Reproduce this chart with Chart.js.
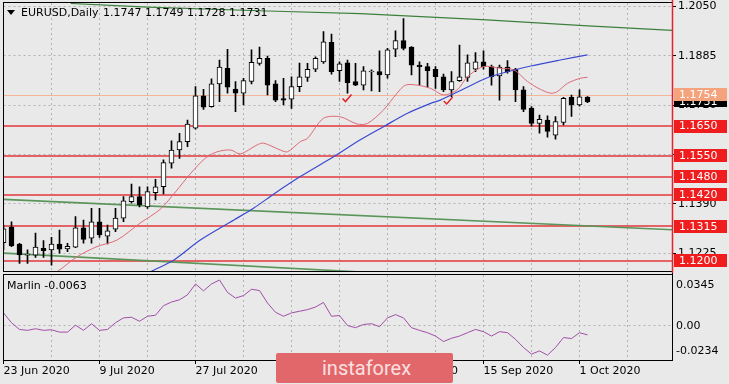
<!DOCTYPE html>
<html><head><meta charset="utf-8">
<script src="https://cdn.jsdelivr.net/npm/chart.js@4.4.1/dist/chart.umd.min.js"></script>
<style>
html,body{margin:0;padding:0;background:#e9e9e9;width:729px;height:384px;overflow:hidden;}
#main{position:absolute;left:0;top:0;}
#sub{position:absolute;left:0;top:273px;}
#logo{position:absolute;left:276px;top:353px;width:177px;height:30px;background:#e2676b;border-radius:2px;color:#fbe0e0;font-family:Roboto,"Open Sans",sans-serif;font-size:20px;line-height:30px;box-sizing:border-box;padding-left:46px;}
</style></head><body>
<canvas id="main" width="729" height="273"></canvas>
<canvas id="sub" width="729" height="111"></canvas>
<div id="logo">instaforex</div>
<script>
// ---- data (daily EURUSD, bar index 0 = 23 Jun 2020) ----
const candleOpen  = [1.1260,1.1312,1.1255,1.1218,1.1218,1.1241,1.1236,1.1255,1.1239,1.1245,1.1310,1.1275,1.1330,1.1282,1.1305,1.1342,1.1397,1.1414,1.1380,1.1427,1.1447,1.1526,1.1570,1.1598,1.1643,1.1751,1.1715,1.1791,1.1843,1.1774,1.1760,1.1799,1.1860,1.1877,1.1791,1.1742,1.1740,1.1782,1.1813,1.1840,1.1865,1.1930,1.1835,1.1862,1.1799,1.1787,1.1831,1.1832,1.1821,1.1907,1.1936,1.1914,1.1854,1.1849,1.1840,1.1815,1.1771,1.1802,1.1813,1.1840,1.1865,1.1849,1.1818,1.1847,1.1840,1.1771,1.1710,1.1659,1.1670,1.1620,1.1662,1.1746,1.1721,1.1747];
const candleHigh  = [1.1319,1.1330,1.1258,1.1236,1.1292,1.1267,1.1278,1.1302,1.1258,1.1347,1.1336,1.1375,1.1375,1.1319,1.1375,1.1414,1.1456,1.1447,1.1447,1.1472,1.1537,1.1601,1.1626,1.1670,1.1782,1.1773,1.1808,1.1871,1.1907,1.1799,1.1810,1.1905,1.1914,1.1884,1.1802,1.1810,1.1815,1.1861,1.1860,1.1882,1.1966,1.1958,1.1865,1.1871,1.1860,1.1849,1.1838,1.1902,1.1910,1.1969,1.2010,1.1916,1.1865,1.1860,1.1849,1.1824,1.1832,1.1921,1.1888,1.1896,1.1902,1.1854,1.1854,1.1869,1.1843,1.1782,1.1715,1.1687,1.1684,1.1682,1.1746,1.1754,1.1771,1.1749];
const candleLow   = [1.1236,1.1247,1.1191,1.1191,1.1211,1.1211,1.1185,1.1225,1.1230,1.1243,1.1258,1.1258,1.1278,1.1256,1.1297,1.1330,1.1392,1.1380,1.1375,1.1403,1.1423,1.1509,1.1542,1.1581,1.1640,1.1706,1.1713,1.1732,1.1760,1.1698,1.1721,1.1791,1.1854,1.1754,1.1732,1.1721,1.1709,1.1765,1.1799,1.1832,1.1860,1.1824,1.1799,1.1760,1.1785,1.1771,1.1768,1.1765,1.1810,1.1882,1.1905,1.1821,1.1787,1.1780,1.1776,1.1765,1.1748,1.1799,1.1799,1.1832,1.1840,1.1787,1.1737,1.1827,1.1732,1.1698,1.1650,1.1626,1.1613,1.1606,1.1654,1.1682,1.1717,1.1728];
const candleClose = [1.1306,1.1249,1.1219,1.1220,1.1245,1.1233,1.1255,1.1238,1.1248,1.1310,1.1271,1.1330,1.1286,1.1300,1.1342,1.1400,1.1414,1.1386,1.1431,1.1447,1.1528,1.1570,1.1598,1.1657,1.1751,1.1713,1.1791,1.1847,1.1780,1.1760,1.1802,1.1863,1.1877,1.1787,1.1737,1.1737,1.1782,1.1815,1.1840,1.1877,1.1932,1.1832,1.1858,1.1795,1.1787,1.1835,1.1834,1.1821,1.1905,1.1936,1.1910,1.1854,1.1849,1.1835,1.1815,1.1771,1.1799,1.1815,1.1862,1.1865,1.1849,1.1815,1.1847,1.1832,1.1771,1.1706,1.1659,1.1673,1.1632,1.1665,1.1743,1.1721,1.1748,1.1731];

const redMaIdx = [5.5,6.7,9.2,11.7,14.2,17.1,19.6,21.5,23.4,25.25,26.7,28.4,29.6,31.7,32.5,34.6,35.5,37.1,38,40,42.1,44.2,45.5,47.5,49.2,50.25,51.7,53.4,55,56.7,58,60,62.1,63.8,65.5,67.1,68.4,69.2,70.5,72.1,73];
const redMaVal = [1.1150,1.1163,1.1213,1.1247,1.1269,1.1326,1.1372,1.1430,1.1492,1.1543,1.1564,1.1570,1.1557,1.1587,1.1593,1.1570,1.1564,1.1598,1.1609,1.1676,1.1681,1.1657,1.1659,1.1704,1.1760,1.1787,1.1787,1.1776,1.1754,1.1771,1.1815,1.1849,1.1843,1.1838,1.1799,1.1773,1.1760,1.1765,1.1793,1.1810,1.1813];
const blueMaIdx = [17,18.4,21.3,24.6,28.8,31.3,33.8,37.1,41.3,44.6,47.5,50.5,53.4,54.6,57.5,60.4,62.9,65.9,69.6,73];
const blueMaVal = [1.1140,1.1163,1.1202,1.1269,1.1336,1.1376,1.1423,1.1481,1.1548,1.1604,1.1648,1.1693,1.1726,1.1737,1.1774,1.1811,1.1831,1.1851,1.1871,1.1888];

const trendTopIdx = [8.4,18,33,44.6,60.4,72.5,83.6];
const trendTopVal = [1.2060,1.2048,1.2035,1.2026,1.2005,1.1986,1.1970];
const trendMidIdx = [0,83.6];
const trendMidVal = [1.1405,1.1303];
const trendLowIdx = [0,83.6];
const trendLowVal = [1.1225,1.1107];

const levelValues = [1.1650,1.1550,1.1480,1.1420,1.1315,1.1200];
const resistValue = 1.1754;
const checkIdx = [42.75,55.4];
const checkVal = [1.1732,1.1724];

const marlin = [0.0087,0.0020,-0.0026,-0.0032,-0.0021,-0.0032,-0.0028,-0.0044,-0.0044,0.0003,-0.0032,0.0013,-0.0032,-0.0026,0.0020,0.0053,0.0057,0.0030,0.0064,0.0071,0.0136,0.0161,0.0176,0.0210,0.0284,0.0237,0.0284,0.0311,0.0226,0.0188,0.0205,0.0248,0.0239,0.0154,0.0091,0.0064,0.0087,0.0098,0.0109,0.0127,0.0158,0.0064,0.0069,0.0001,-0.0014,0.0008,0.0013,-0.0007,0.0053,0.0075,0.0053,-0.0014,-0.0032,-0.0048,-0.0071,-0.0108,-0.0086,-0.0071,-0.0048,-0.0026,-0.0041,-0.0071,-0.0041,-0.0048,-0.0093,-0.0149,-0.0194,-0.0172,-0.0201,-0.0149,-0.0081,-0.0088,-0.0048,-0.0063];

const priceTicks = [1.2050,1.1885,1.1720,1.1555,1.1390,1.1225];
const gridIdx = [0,6,12,18,24,30,36,42,48,54,60,66,72,78];
const xTickIdx = [0,12,24,36,48,60,72];
const xTickLabels = ['23 Jun 2020','9 Jul 2020','27 Jul 2020','12 Aug 2020','28 Aug 2020','15 Sep 2020','1 Oct 2020'];
const marlinTickLabels = ['0.0345','0.00','-0.0234'];
const marlinTickAt = [0.0277,0,-0.0177];   // where the terminal prints those labels inside the pane
const marlinMin = -0.0234, marlinMax = 0.0345;
const priceMin = 1.11653, priceMax = 1.20617;
const xMin = 0, xMax = 83.5625;

// ---- chart ----
Chart.defaults.font.family = 'DejaVu Sans';
Chart.defaults.font.size = 11;
Chart.defaults.color = '#000';
const FONT = '11px "DejaVu Sans"';
const GRID = '#b2b2b2';
const N = candleClose.length;
const idx = candleClose.map((_, i) => i);
const pts = (xs, ys) => xs.map((x, k) => ({x, y: ys[k]}));
const labelFor = v => { const k = xTickIdx.indexOf(v); return k >= 0 ? xTickLabels[k] : ''; };

function drawFrame(ctx, a) {
  ctx.save();
  ctx.strokeStyle = '#000'; ctx.lineWidth = 1;
  ctx.strokeRect(Math.round(a.left) - 0.5, Math.round(a.top) - 0.5, Math.round(a.right) - Math.round(a.left) + 1, Math.round(a.bottom) - Math.round(a.top) + 1);
  ctx.restore();
}

const mainDecor = {
  id: 'mainDecor',
  beforeDatasetsDraw(chart) {
    const {ctx, chartArea: a, scales: {y}} = chart;
    ctx.save();
    ctx.beginPath(); ctx.rect(a.left, a.top, a.right - a.left, a.bottom - a.top); ctx.clip();
    ctx.strokeStyle = '#e36366'; ctx.lineWidth = 2;
    levelValues.forEach(v => {
      const py = Math.round(y.getPixelForValue(v));
      ctx.beginPath(); ctx.moveTo(a.left, py); ctx.lineTo(a.right, py); ctx.stroke();
    });
    ctx.strokeStyle = '#f5b496'; ctx.lineWidth = 1;
    const ry = Math.round(y.getPixelForValue(resistValue)) + 0.5;
    ctx.beginPath(); ctx.moveTo(a.left, ry); ctx.lineTo(a.right, ry); ctx.stroke();
    ctx.restore();
  },
  afterDraw(chart) {
    const {ctx, chartArea: a, scales: {x, y}} = chart;
    ctx.save();
    // check marks
    ctx.strokeStyle = '#e0242a'; ctx.lineWidth = 1.5;
    checkIdx.forEach((ci, k) => {
      const px = x.getPixelForValue(ci), py = y.getPixelForValue(checkVal[k]);
      ctx.beginPath(); ctx.moveTo(px - 3, py - 3); ctx.lineTo(px, py); ctx.lineTo(px + 6, py - 7); ctx.stroke();
    });
    // title
    ctx.fillStyle = '#000';
    ctx.beginPath(); ctx.moveTo(7, 10); ctx.lineTo(15, 10); ctx.lineTo(11, 15); ctx.closePath(); ctx.fill();
    ctx.font = FONT; ctx.textBaseline = 'middle'; ctx.textAlign = 'left';
    ctx.fillText('EURUSD,Daily', 21, 13);
    const last = N - 1;
    ctx.fillText([candleOpen[last], candleHigh[last], candleLow[last], candleClose[last]].map(v => v.toFixed(4)).join(' '), 103, 13);
    // frame
    drawFrame(ctx, a);
    ctx.beginPath(); ctx.moveTo(Math.round(a.right) + 0.5, 0); ctx.lineTo(Math.round(a.right) + 0.5, 273); ctx.stroke();
    // price boxes
    const bx = Math.round(a.right) + 2, bw = 53;
    const box = (v, bg, h) => {
      const py = y.getPixelForValue(v);
      ctx.fillStyle = bg; ctx.fillRect(bx, Math.round(py - h / 2), bw, h);
      ctx.fillStyle = '#fff'; ctx.fillText(v.toFixed(4), bx + 5, py + 0.5);
    };
    box(candleClose[last], '#000', 11);
    box(resistValue, '#f4a37c', 13);
    levelValues.forEach(v => box(v, '#ef1d1d', 13));
    ctx.restore();
  }
};

new Chart(document.getElementById('main'), {
  type: 'bar',
  data: { datasets: [
    { type: 'line', data: pts(redMaIdx, redMaVal), borderColor: '#dc6a78', borderWidth: 1, pointRadius: 0, tension: 0.3, order: 0 },
    { type: 'line', data: pts(blueMaIdx, blueMaVal), borderColor: '#3a4ad0', borderWidth: 1.2, pointRadius: 0, tension: 0.3, order: 0 },
    { type: 'bar', data: idx.map(i => ({x: i, y: [candleOpen[i], candleClose[i]]})),
      backgroundColor: idx.map(i => candleClose[i] >= candleOpen[i] ? '#ffffff' : '#000000'),
      borderColor: '#000', borderWidth: 1, borderSkipped: false, barThickness: 5, grouped: false, minBarLength: 1, order: 1 },
    { type: 'bar', data: idx.map(i => ({x: i, y: [candleLow[i], candleHigh[i]]})),
      backgroundColor: '#000', borderWidth: 0, barThickness: 1, grouped: false, order: 2 },
    { type: 'line', data: pts(trendTopIdx, trendTopVal), borderColor: '#3d803d', borderWidth: 1.2, pointRadius: 0, tension: 0, order: 3 },
    { type: 'line', data: pts(trendMidIdx, trendMidVal), borderColor: '#5a955a', borderWidth: 1.6, pointRadius: 0, tension: 0, order: 3 },
    { type: 'line', data: pts(trendLowIdx, trendLowVal), borderColor: '#5a955a', borderWidth: 1.6, pointRadius: 0, tension: 0, order: 3 }
  ]},
  options: {
    responsive: false, animation: false,
    layout: { padding: { left: 3.5, top: 3, right: 0, bottom: 2 } },
    plugins: { legend: { display: false }, tooltip: { enabled: false } },
    scales: {
      x: { type: 'linear', min: xMin, max: xMax, offset: false,
        afterBuildTicks: s => { s.ticks = gridIdx.map(v => ({value: v})); },
        afterFit: s => { s.height = 0; s.paddingLeft = 0; s.paddingRight = 0; },
        ticks: { display: false },
        grid: { drawTicks: false, offset: false, color: c => (c.tick && c.tick.value === 0) ? 'rgba(0,0,0,0)' : GRID },
        border: { display: false, dash: [2, 3] } },
      y: { position: 'right', min: priceMin, max: priceMax,
        afterBuildTicks: s => { s.ticks = priceTicks.map(v => ({value: v})); },
        afterFit: s => { s.width = 57; s.paddingTop = 0; s.paddingBottom = 0; },
        ticks: { autoSkip: false, padding: 2, color: '#000', callback: v => Number(v).toFixed(4) },
        grid: { color: GRID, drawTicks: true, tickLength: 4, tickColor: '#000', tickWidth: 1 },
        border: { display: false, dash: [2, 3] } }
    }
  },
  plugins: [mainDecor]
});

const subDecor = {
  id: 'subDecor',
  afterDraw(chart) {
    const {ctx, chartArea: a} = chart;
    ctx.save();
    drawFrame(ctx, a);
    ctx.beginPath(); ctx.moveTo(Math.round(a.right) + 0.5, 0); ctx.lineTo(Math.round(a.right) + 0.5, Math.round(a.bottom)); ctx.stroke();
    ctx.fillStyle = '#000'; ctx.font = FONT; ctx.textBaseline = 'middle'; ctx.textAlign = 'left';
    ctx.fillText('Marlin ' + marlin[marlin.length - 1].toFixed(4), 7, 13);
    ctx.restore();
  }
};

new Chart(document.getElementById('sub'), {
  type: 'line',
  data: { datasets: [
    { data: marlin.map((v, i) => ({x: i, y: v})), borderColor: '#a04fa8', borderWidth: 1, pointRadius: 0, tension: 0 }
  ]},
  options: {
    responsive: false, animation: false,
    layout: { padding: { left: 3.5, top: 2, right: 0, bottom: 0 } },
    plugins: { legend: { display: false }, tooltip: { enabled: false } },
    scales: {
      x: { type: 'linear', min: xMin, max: xMax, offset: false,
        afterBuildTicks: s => { s.ticks = gridIdx.map(v => ({value: v})); },
        afterFit: s => { s.height = 24; s.paddingLeft = 0; s.paddingRight = 0; },
        ticks: { autoSkip: false, maxRotation: 0, minRotation: 0, align: 'start', padding: 1, color: '#000', callback: v => labelFor(v) },
        grid: { offset: false, tickLength: 4,
          color: c => (c.tick && c.tick.value === 0) ? 'rgba(0,0,0,0)' : GRID,
          tickColor: c => (c.tick && labelFor(c.tick.value)) ? '#000' : 'rgba(0,0,0,0)' },
        border: { display: false, dash: [2, 3] } },
      y: { position: 'right', min: marlinMin, max: marlinMax,
        afterBuildTicks: s => { s.ticks = marlinTickAt.map(v => ({value: v})); },
        afterFit: s => { s.width = 57; s.paddingTop = 0; s.paddingBottom = 0; },
        ticks: { autoSkip: false, padding: 0, color: '#000', callback: (v, i) => marlinTickLabels[i] },
        grid: { tickLength: 4, tickColor: 'rgba(0,0,0,0)', color: c => (c.tick && c.tick.value === 0) ? GRID : 'rgba(0,0,0,0)' },
        border: { display: false, dash: [2, 3] } }
    }
  },
  plugins: [subDecor]
});
</script>
</body></html>
